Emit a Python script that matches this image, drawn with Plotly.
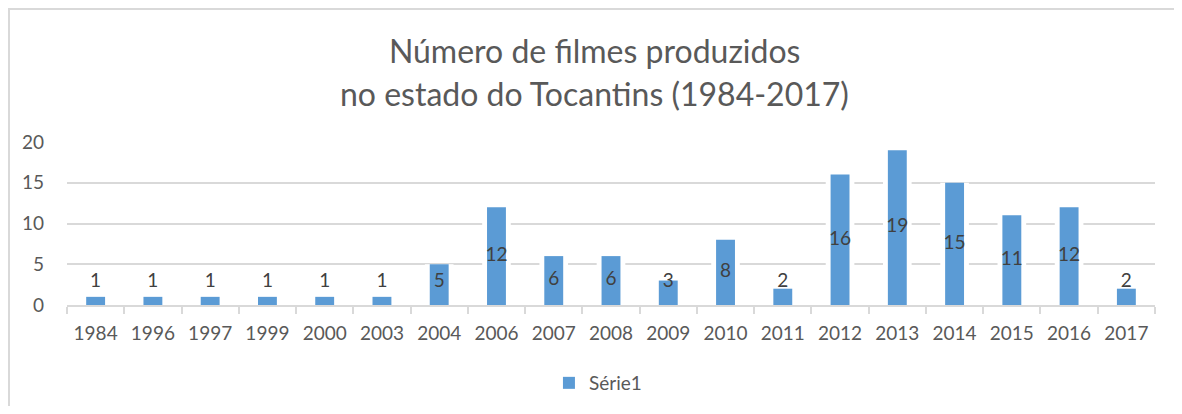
import plotly.graph_objects as go

years = ["1984", "1996", "1997", "1999", "2000", "2003", "2004", "2006", "2007", "2008",
         "2009", "2010", "2011", "2012", "2013", "2014", "2015", "2016", "2017"]
films = [1, 1, 1, 1, 1, 1, 5, 12, 6, 6, 3, 8, 2, 16, 19, 15, 11, 12, 2]
series_name = "Série1"
title_lines = ["Número de filmes produzidos", "no estado do Tocantins (1984-2017)"]
y_ticks = [0, 5, 10, 15, 20]

FONT = "Lato"
BLUE = "#5B9BD5"
GRID = "#D9D9D9"
TXT = "#595959"

# label position: centred in bar, but never lower than a minimum height
label_y = [max(v / 2, 2.8) for v in films]

fig = go.Figure()
# white halo behind bars (hides gridlines around each bar, like the original)
fig.add_trace(go.Bar(x=years, y=films, width=0.5, marker=dict(color="white", line=dict(width=0)),
                     showlegend=False, hoverinfo="skip"))
fig.add_trace(go.Bar(x=years, y=films, width=0.33, name=series_name,
                     marker=dict(color=BLUE, line=dict(width=0))))
fig.add_trace(go.Scatter(x=years, y=label_y, mode="text", text=[str(v) for v in films],
                         textfont=dict(family=FONT, size=19, color="#404040"),
                         showlegend=False, hoverinfo="skip"))

W, H = 1174, 398  # page body adds an 8px margin
fig.update_layout(
    width=W, height=H,
    barmode="overlay",
    paper_bgcolor="white", plot_bgcolor="white",
    margin=dict(l=59, r=27, t=134, b=101, autoexpand=False),
    title=dict(text=title_lines[0], x=0.485, xanchor="center", xref="paper",
               y=1 - 44 / H, yanchor="middle", yref="container",
               font=dict(family=FONT, size=32, color=TXT)),
    annotations=[dict(text=title_lines[1], x=0.485, xanchor="center", xref="paper",
                      y=(305 - 93) / 163, yanchor="middle", yref="paper", showarrow=False,
                      font=dict(family=FONT, size=32, color=TXT))],
    font=dict(family=FONT, color=TXT),
    showlegend=True,
    legend=dict(orientation="h", x=0.488, xanchor="center", xref="paper",
                y=23 / H, yanchor="middle", yref="container",
                font=dict(family=FONT, size=19, color=TXT), itemwidth=30),
    xaxis=dict(type="category", range=[-0.5, len(years) - 0.5], showgrid=False,
               ticks="outside", tickson="boundaries",
               ticklen=7, tickcolor=GRID, tickwidth=2, showline=True, linecolor=GRID, linewidth=2,
               ticklabelstandoff=10, automargin=False,
               tickfont=dict(family=FONT, size=19, color=TXT)),
    yaxis=dict(range=[0, 20], tickvals=y_ticks, showgrid=True, gridcolor=GRID, gridwidth=2,
               zeroline=False, showline=False, ticks="", ticklabelstandoff=22, automargin=False,
               tickfont=dict(family=FONT, size=19, color=TXT)),
    shapes=[dict(type="path", xref="paper", yref="paper",
                 path="M -0.0533,-0.755 L -0.0533,1.816 L 1.0234,1.816 L 1.0234,-0.755",
                 line=dict(color=GRID, width=2), layer="below")],
)

fig.write_html("out.html")
